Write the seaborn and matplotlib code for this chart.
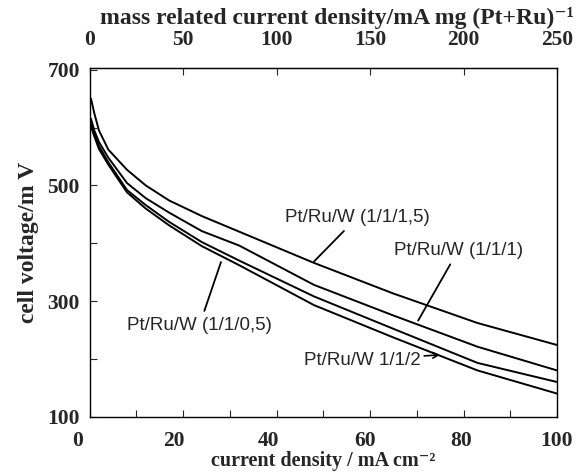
import matplotlib
matplotlib.use("Agg")
import matplotlib.pyplot as plt
import matplotlib.transforms as mtransforms
import seaborn as sns
import pandas as pd

# current density in mA cm-2
current = [0.3, 1, 2, 4, 8, 12, 17, 24, 32, 48, 65, 83, 100]

# cell voltage in mV for each Pt/Ru/W ratio
v_1_1_15 = [650, 625, 595, 562, 527, 500, 474, 447, 420, 366, 313, 262, 224]
v_1_1_1 = [615, 595, 575, 548, 504, 478, 453, 421, 396, 328, 275, 221, 180]
v_1_1_05 = [608, 590, 568, 540, 492, 466, 437, 402, 370, 308, 252, 193, 160]
v_1_1_2 = [602, 585, 563, 536, 488, 460, 431, 395, 362, 293, 237, 180, 140]

series = {
    "Pt/Ru/W (1/1/1,5)": v_1_1_15,
    "Pt/Ru/W (1/1/1)": v_1_1_1,
    "Pt/Ru/W (1/1/0,5)": v_1_1_05,
    "Pt/Ru/W 1/1/2": v_1_1_2,
}
df = pd.concat(
    [pd.DataFrame({"current": current, "voltage": v, "sample": name}) for name, v in series.items()],
    ignore_index=True,
)

sns.set_style("ticks")
plt.rcParams["font.family"] = ["Liberation Serif", "DejaVu Serif"]
plt.rcParams["font.weight"] = "bold"

fig = plt.figure(figsize=(5.77, 4.74), dpi=100)
ax = fig.add_axes([0.1553, 0.1209, 0.81, 0.7356])

sns.lineplot(data=df, x="current", y="voltage", units="sample", estimator=None,
             color="black", linewidth=1.4, ax=ax, legend=False)

ax.set_xlim(0, 100)
ax.set_ylim(100, 703)
ax.set_xticks([0, 20, 40, 60, 80, 100])
ax.set_xticks([10, 30, 50, 70, 90], minor=True)
ax.set_yticks([100, 300, 500, 700])
ax.set_yticks([200, 400, 600], minor=True)
ax.tick_params(which="both", direction="in", length=5, width=0.8, labelsize=15.5)
ax.tick_params(axis="x", pad=10)
ax.tick_params(axis="y", pad=7)
for s in ax.spines.values():
    s.set_linewidth(1.0)
    s.set_color("black")

# the scanned bottom labels sit a bit left of their ticks
shifts = [-12, -9, -8, -5, -2, 0]
for lab, dx in zip(ax.get_xticklabels(), shifts):
    lab.set_transform(lab.get_transform() + mtransforms.ScaledTranslation(dx / 100, 0, fig.dpi_scale_trans))

ax.set_xlabel("current density / mA cm⁻²", fontsize=14.5, fontweight="bold", labelpad=0)
ax.set_ylabel("cell voltage/m V", fontsize=17, fontweight="bold", labelpad=6)

top = ax.secondary_xaxis("top", functions=(lambda x: x * 2.5, lambda m: m / 2.5))
top.set_xticks([0, 50, 100, 150, 200, 250])
top.tick_params(direction="in", length=5, width=0.8, labelsize=15.5, pad=13)
top.set_xlabel("mass related current density/mA mg (Pt+Ru)⁻¹", fontsize=17,
               fontweight="bold", labelpad=4)
top.xaxis.label.set_x(0.53)

lbl = dict(fontsize=13.5, family=["Liberation Sans", "DejaVu Sans"], fontweight="normal",
           ha="center", va="center")
arrow = dict(arrowstyle="-", color="black", lw=1.3)

ax.annotate("Pt/Ru/W (1/1/1,5)", xy=(47.6, 365), xytext=(57.3, 445), arrowprops=arrow, **lbl)
ax.annotate("Pt/Ru/W (1/1/1)", xy=(70.0, 262), xytext=(78.9, 388), arrowprops=arrow, **lbl)
ax.annotate("Pt/Ru/W (1/1/0,5)", xy=(28.3, 372), xytext=(23.5, 258), arrowprops=arrow, **lbl)
ax.annotate("Pt/Ru/W 1/1/2", xy=(75.0, 207), xytext=(58.4, 198),
            arrowprops=dict(arrowstyle="->,head_length=0.3,head_width=0.15", color="black",
                            lw=1.2, shrinkA=46, shrinkB=0), **lbl)

fig.savefig("out.png", dpi=100)
